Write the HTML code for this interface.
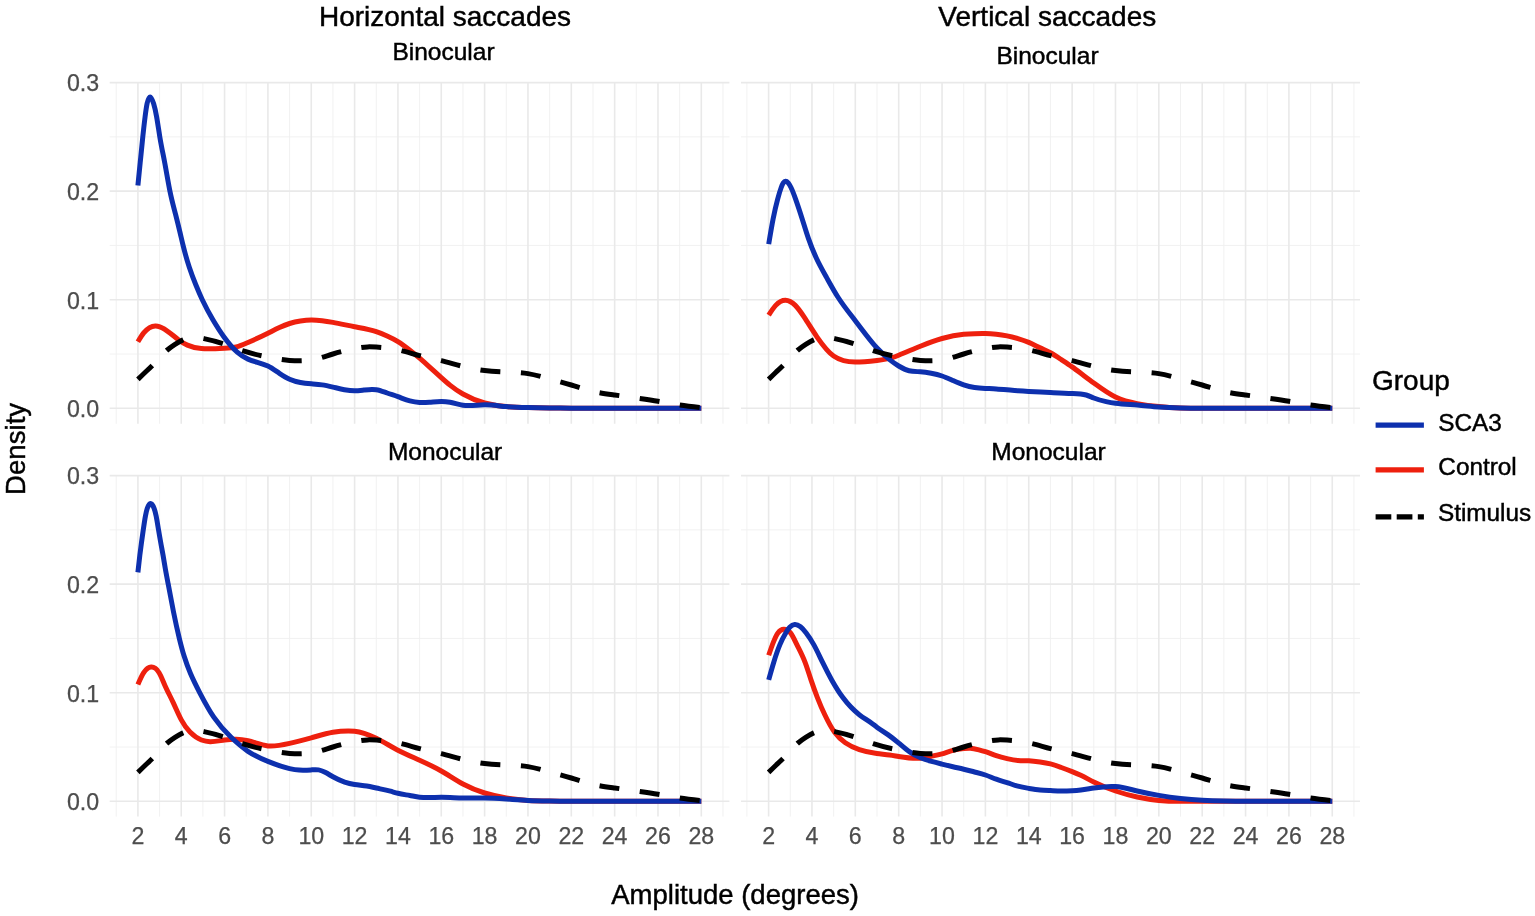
<!DOCTYPE html>
<html lang="en"><head><meta charset="utf-8"><title>Saccade amplitude density</title>
<style>html,body{margin:0;padding:0;background:#fff}svg{display:block}</style></head>
<body>
<svg width="1535" height="916" viewBox="0 0 1535 916">
<rect width="1535" height="916" fill="#ffffff"/>
<g><line x1="116.23" x2="116.23" y1="82.60" y2="423.80" stroke="#efefef" stroke-width="0.9"/><line x1="159.57" x2="159.57" y1="82.60" y2="423.80" stroke="#efefef" stroke-width="0.9"/><line x1="202.91" x2="202.91" y1="82.60" y2="423.80" stroke="#efefef" stroke-width="0.9"/><line x1="246.25" x2="246.25" y1="82.60" y2="423.80" stroke="#efefef" stroke-width="0.9"/><line x1="289.59" x2="289.59" y1="82.60" y2="423.80" stroke="#efefef" stroke-width="0.9"/><line x1="332.93" x2="332.93" y1="82.60" y2="423.80" stroke="#efefef" stroke-width="0.9"/><line x1="376.27" x2="376.27" y1="82.60" y2="423.80" stroke="#efefef" stroke-width="0.9"/><line x1="419.61" x2="419.61" y1="82.60" y2="423.80" stroke="#efefef" stroke-width="0.9"/><line x1="462.95" x2="462.95" y1="82.60" y2="423.80" stroke="#efefef" stroke-width="0.9"/><line x1="506.29" x2="506.29" y1="82.60" y2="423.80" stroke="#efefef" stroke-width="0.9"/><line x1="549.63" x2="549.63" y1="82.60" y2="423.80" stroke="#efefef" stroke-width="0.9"/><line x1="592.97" x2="592.97" y1="82.60" y2="423.80" stroke="#efefef" stroke-width="0.9"/><line x1="636.31" x2="636.31" y1="82.60" y2="423.80" stroke="#efefef" stroke-width="0.9"/><line x1="679.65" x2="679.65" y1="82.60" y2="423.80" stroke="#efefef" stroke-width="0.9"/><line x1="722.99" x2="722.99" y1="82.60" y2="423.80" stroke="#efefef" stroke-width="0.9"/><line x1="109.70" x2="729.40" y1="354.02" y2="354.02" stroke="#efefef" stroke-width="0.9"/><line x1="109.70" x2="729.40" y1="245.45" y2="245.45" stroke="#efefef" stroke-width="0.9"/><line x1="109.70" x2="729.40" y1="136.88" y2="136.88" stroke="#efefef" stroke-width="0.9"/><line x1="137.90" x2="137.90" y1="82.60" y2="423.80" stroke="#e9e9e9" stroke-width="1.6"/><line x1="181.24" x2="181.24" y1="82.60" y2="423.80" stroke="#e9e9e9" stroke-width="1.6"/><line x1="224.58" x2="224.58" y1="82.60" y2="423.80" stroke="#e9e9e9" stroke-width="1.6"/><line x1="267.92" x2="267.92" y1="82.60" y2="423.80" stroke="#e9e9e9" stroke-width="1.6"/><line x1="311.26" x2="311.26" y1="82.60" y2="423.80" stroke="#e9e9e9" stroke-width="1.6"/><line x1="354.60" x2="354.60" y1="82.60" y2="423.80" stroke="#e9e9e9" stroke-width="1.6"/><line x1="397.94" x2="397.94" y1="82.60" y2="423.80" stroke="#e9e9e9" stroke-width="1.6"/><line x1="441.28" x2="441.28" y1="82.60" y2="423.80" stroke="#e9e9e9" stroke-width="1.6"/><line x1="484.62" x2="484.62" y1="82.60" y2="423.80" stroke="#e9e9e9" stroke-width="1.6"/><line x1="527.96" x2="527.96" y1="82.60" y2="423.80" stroke="#e9e9e9" stroke-width="1.6"/><line x1="571.30" x2="571.30" y1="82.60" y2="423.80" stroke="#e9e9e9" stroke-width="1.6"/><line x1="614.64" x2="614.64" y1="82.60" y2="423.80" stroke="#e9e9e9" stroke-width="1.6"/><line x1="657.98" x2="657.98" y1="82.60" y2="423.80" stroke="#e9e9e9" stroke-width="1.6"/><line x1="701.32" x2="701.32" y1="82.60" y2="423.80" stroke="#e9e9e9" stroke-width="1.6"/><line x1="109.70" x2="729.40" y1="408.30" y2="408.30" stroke="#e9e9e9" stroke-width="1.6"/><line x1="109.70" x2="729.40" y1="299.73" y2="299.73" stroke="#e9e9e9" stroke-width="1.6"/><line x1="109.70" x2="729.40" y1="191.17" y2="191.17" stroke="#e9e9e9" stroke-width="1.6"/><line x1="109.70" x2="729.40" y1="82.60" y2="82.60" stroke="#e9e9e9" stroke-width="1.6"/></g>
<path d="M137.90 341.80C139.83 338.54 141.77 335.27 143.70 332.90C147.67 328.03 151.63 325.76 155.60 325.90C157.00 325.95 158.40 326.30 159.80 326.80C163.17 327.99 166.53 330.33 169.90 332.90C172.83 335.14 175.77 337.76 178.70 339.90C181.60 342.01 184.50 343.83 187.40 345.10C192.07 347.15 196.73 348.24 201.40 348.60C206.03 348.96 210.67 348.85 215.30 348.70C218.40 348.60 221.50 348.46 224.60 348.30C228.50 348.10 232.40 347.83 236.30 346.90C240.20 345.97 244.10 344.21 248.00 342.50C254.64 339.59 261.28 336.51 267.92 333.20C271.75 331.29 275.58 329.25 279.41 327.50C282.80 325.95 286.20 324.55 289.59 323.50C293.20 322.38 296.81 321.57 300.43 321.00C304.04 320.43 307.65 320.03 311.26 320.00C314.87 319.97 318.48 320.27 322.10 320.70C325.71 321.13 329.32 321.74 332.93 322.40C340.15 323.72 347.38 325.31 354.60 326.70C361.82 328.09 369.05 329.21 376.27 331.60C379.88 332.79 383.49 334.36 387.11 336.00C390.72 337.64 394.33 339.39 397.94 341.60C401.91 344.03 405.89 347.07 409.86 350.20C413.11 352.76 416.36 355.43 419.61 358.20C422.86 360.97 426.11 363.87 429.36 366.80C433.33 370.38 437.31 374.03 441.28 377.60C444.17 380.20 447.06 382.79 449.95 385.10C454.28 388.56 458.62 391.55 462.95 394.00C470.17 398.09 477.40 401.08 484.62 403.00C491.84 404.92 499.07 406.00 506.29 406.60C513.51 407.20 520.74 407.43 527.96 407.60C535.18 407.77 542.41 407.90 549.63 408.00C556.85 408.10 564.08 408.17 571.30 408.20C585.75 408.26 600.19 408.22 614.64 408.20C629.09 408.18 643.53 408.20 657.98 408.20C672.43 408.20 686.87 408.20 701.32 408.20" fill="none" stroke="#ee200e" stroke-width="5.0" stroke-linejoin="round"/>
<path d="M137.90 185.50C138.67 177.90 139.43 170.29 140.20 162.60C141.07 153.90 141.93 145.01 142.80 136.80C143.57 129.54 144.33 122.66 145.10 116.70C145.77 111.52 146.43 106.72 147.10 103.60C148.10 98.92 149.10 96.84 150.10 96.90C151.27 96.97 152.43 99.83 153.60 103.60C154.60 106.83 155.60 111.16 156.60 116.70C157.67 122.61 158.73 130.36 159.80 136.80C161.43 146.66 163.07 153.99 164.70 162.60C166.47 171.92 168.23 182.79 170.00 191.40C171.90 200.66 173.80 207.48 175.70 214.90C177.13 220.50 178.57 226.34 180.00 232.40C181.07 236.91 182.13 241.61 183.20 245.90C185.23 254.07 187.27 261.13 189.30 267.30C191.47 273.87 193.63 279.47 195.80 284.80C198.00 290.22 200.20 295.34 202.40 300.00C205.90 307.42 209.40 313.77 212.90 319.70C216.67 326.08 220.43 332.02 224.20 337.20C228.53 343.16 232.87 348.34 237.20 352.10C240.80 355.22 244.40 357.49 248.00 359.10C254.64 362.08 261.28 362.84 267.92 366.10C271.75 367.98 275.58 370.79 279.41 373.30C282.80 375.53 286.20 377.69 289.59 379.20C293.20 380.81 296.81 381.84 300.43 382.50C304.04 383.16 307.65 383.49 311.26 383.80C314.87 384.11 318.48 384.37 322.10 384.90C325.71 385.43 329.32 386.26 332.93 387.10C336.76 388.00 340.59 389.00 344.42 389.70C347.81 390.32 351.21 390.80 354.60 390.80C357.71 390.80 360.81 390.42 363.92 390.10C366.59 389.83 369.26 389.54 371.94 389.50C373.38 389.48 374.83 389.52 376.27 389.70C379.88 390.16 383.49 391.72 387.11 393.00C390.72 394.28 394.33 395.40 397.94 396.70C401.91 398.13 405.89 399.86 409.86 400.90C413.11 401.75 416.36 402.26 419.61 402.40C422.86 402.54 426.11 402.41 429.36 402.20C433.33 401.95 437.31 401.52 441.28 401.50C444.17 401.49 447.06 401.70 449.95 402.20C454.28 402.95 458.62 404.64 462.95 405.20C470.17 406.13 477.40 404.88 484.62 404.80C491.84 404.72 499.07 405.95 506.29 406.60C513.51 407.25 520.74 407.44 527.96 407.60C535.18 407.76 542.41 407.90 549.63 408.00C556.85 408.10 564.08 408.17 571.30 408.20C585.75 408.26 600.19 408.22 614.64 408.20C629.09 408.18 643.53 408.20 657.98 408.20C672.43 408.20 686.87 408.20 701.32 408.20" fill="none" stroke="#0d30ae" stroke-width="5.0" stroke-linejoin="round"/>
<path d="M137.90 379.40C140.27 377.07 142.63 374.75 145.00 372.50C147.37 370.25 149.73 368.08 152.10 365.70C157.17 360.60 162.23 354.42 167.30 350.00C169.87 347.76 172.43 345.94 175.00 344.30C177.67 342.60 180.33 341.03 183.00 339.90C186.67 338.35 190.33 337.36 194.00 337.30C197.33 337.25 200.67 337.91 204.00 338.60C210.40 339.92 216.80 341.58 223.20 343.70C229.60 345.82 236.00 348.60 242.40 350.70C250.91 353.49 259.41 355.35 267.92 357.00C275.14 358.40 282.37 359.80 289.59 360.40C296.81 361.00 304.04 361.08 311.26 360.00C318.48 358.92 325.71 356.15 332.93 354.00C340.15 351.85 347.38 349.97 354.60 348.60C358.93 347.78 363.27 347.04 367.60 346.90C370.49 346.81 373.38 346.94 376.27 347.10C383.49 347.51 390.72 348.30 397.94 349.80C405.16 351.30 412.39 353.74 419.61 355.60C426.83 357.46 434.06 358.82 441.28 360.60C448.50 362.38 455.73 364.60 462.95 366.40C470.17 368.20 477.40 369.74 484.62 370.60C491.84 371.46 499.07 371.73 506.29 372.00C513.51 372.27 520.74 372.47 527.96 373.60C535.18 374.73 542.41 377.01 549.63 379.00C556.85 380.99 564.08 382.85 571.30 385.00C578.52 387.15 585.75 389.71 592.97 391.40C600.19 393.09 607.42 394.01 614.64 395.00C621.86 395.99 629.09 396.99 636.31 398.00C643.53 399.01 650.76 399.99 657.98 401.20C665.20 402.41 672.43 403.90 679.65 405.00C686.87 406.10 694.10 406.87 701.32 407.60" fill="none" stroke="#000000" stroke-width="5.0" stroke-linejoin="round" stroke-dasharray="20.00 20.60"/>
<g><line x1="746.92" x2="746.92" y1="82.60" y2="423.80" stroke="#efefef" stroke-width="0.9"/><line x1="790.28" x2="790.28" y1="82.60" y2="423.80" stroke="#efefef" stroke-width="0.9"/><line x1="833.64" x2="833.64" y1="82.60" y2="423.80" stroke="#efefef" stroke-width="0.9"/><line x1="877.00" x2="877.00" y1="82.60" y2="423.80" stroke="#efefef" stroke-width="0.9"/><line x1="920.36" x2="920.36" y1="82.60" y2="423.80" stroke="#efefef" stroke-width="0.9"/><line x1="963.72" x2="963.72" y1="82.60" y2="423.80" stroke="#efefef" stroke-width="0.9"/><line x1="1007.08" x2="1007.08" y1="82.60" y2="423.80" stroke="#efefef" stroke-width="0.9"/><line x1="1050.44" x2="1050.44" y1="82.60" y2="423.80" stroke="#efefef" stroke-width="0.9"/><line x1="1093.80" x2="1093.80" y1="82.60" y2="423.80" stroke="#efefef" stroke-width="0.9"/><line x1="1137.16" x2="1137.16" y1="82.60" y2="423.80" stroke="#efefef" stroke-width="0.9"/><line x1="1180.52" x2="1180.52" y1="82.60" y2="423.80" stroke="#efefef" stroke-width="0.9"/><line x1="1223.88" x2="1223.88" y1="82.60" y2="423.80" stroke="#efefef" stroke-width="0.9"/><line x1="1267.24" x2="1267.24" y1="82.60" y2="423.80" stroke="#efefef" stroke-width="0.9"/><line x1="1310.60" x2="1310.60" y1="82.60" y2="423.80" stroke="#efefef" stroke-width="0.9"/><line x1="1353.96" x2="1353.96" y1="82.60" y2="423.80" stroke="#efefef" stroke-width="0.9"/><line x1="741.00" x2="1360.00" y1="354.02" y2="354.02" stroke="#efefef" stroke-width="0.9"/><line x1="741.00" x2="1360.00" y1="245.45" y2="245.45" stroke="#efefef" stroke-width="0.9"/><line x1="741.00" x2="1360.00" y1="136.88" y2="136.88" stroke="#efefef" stroke-width="0.9"/><line x1="768.60" x2="768.60" y1="82.60" y2="423.80" stroke="#e9e9e9" stroke-width="1.6"/><line x1="811.96" x2="811.96" y1="82.60" y2="423.80" stroke="#e9e9e9" stroke-width="1.6"/><line x1="855.32" x2="855.32" y1="82.60" y2="423.80" stroke="#e9e9e9" stroke-width="1.6"/><line x1="898.68" x2="898.68" y1="82.60" y2="423.80" stroke="#e9e9e9" stroke-width="1.6"/><line x1="942.04" x2="942.04" y1="82.60" y2="423.80" stroke="#e9e9e9" stroke-width="1.6"/><line x1="985.40" x2="985.40" y1="82.60" y2="423.80" stroke="#e9e9e9" stroke-width="1.6"/><line x1="1028.76" x2="1028.76" y1="82.60" y2="423.80" stroke="#e9e9e9" stroke-width="1.6"/><line x1="1072.12" x2="1072.12" y1="82.60" y2="423.80" stroke="#e9e9e9" stroke-width="1.6"/><line x1="1115.48" x2="1115.48" y1="82.60" y2="423.80" stroke="#e9e9e9" stroke-width="1.6"/><line x1="1158.84" x2="1158.84" y1="82.60" y2="423.80" stroke="#e9e9e9" stroke-width="1.6"/><line x1="1202.20" x2="1202.20" y1="82.60" y2="423.80" stroke="#e9e9e9" stroke-width="1.6"/><line x1="1245.56" x2="1245.56" y1="82.60" y2="423.80" stroke="#e9e9e9" stroke-width="1.6"/><line x1="1288.92" x2="1288.92" y1="82.60" y2="423.80" stroke="#e9e9e9" stroke-width="1.6"/><line x1="1332.28" x2="1332.28" y1="82.60" y2="423.80" stroke="#e9e9e9" stroke-width="1.6"/><line x1="741.00" x2="1360.00" y1="408.30" y2="408.30" stroke="#e9e9e9" stroke-width="1.6"/><line x1="741.00" x2="1360.00" y1="299.73" y2="299.73" stroke="#e9e9e9" stroke-width="1.6"/><line x1="741.00" x2="1360.00" y1="191.17" y2="191.17" stroke="#e9e9e9" stroke-width="1.6"/><line x1="741.00" x2="1360.00" y1="82.60" y2="82.60" stroke="#e9e9e9" stroke-width="1.6"/></g>
<path d="M768.70 315.20C771.03 311.51 773.37 307.86 775.70 305.40C778.97 301.95 782.23 300.23 785.50 300.30C788.77 300.37 792.03 302.23 795.30 305.40C798.27 308.28 801.23 312.72 804.20 317.20C808.43 323.59 812.67 330.68 816.90 336.80C822.48 344.86 828.06 352.11 833.64 356.00C840.87 361.04 848.09 362.02 855.32 362.00C862.55 361.98 869.77 361.23 877.00 360.40C882.06 359.82 887.12 359.14 892.18 357.60C894.34 356.94 896.51 356.07 898.68 355.20C905.91 352.31 913.13 349.11 920.36 346.20C927.59 343.29 934.81 340.53 942.04 338.50C949.27 336.47 956.49 334.97 963.72 334.30C967.33 333.97 970.95 333.80 974.56 333.70C978.17 333.60 981.79 333.53 985.40 333.60C989.01 333.67 992.63 333.93 996.24 334.30C999.85 334.67 1003.47 335.19 1007.08 335.90C1010.69 336.61 1014.31 337.54 1017.92 338.60C1021.53 339.66 1025.15 340.86 1028.76 342.40C1032.52 344.00 1036.28 346.01 1040.03 347.80C1043.50 349.45 1046.97 350.91 1050.44 352.80C1054.05 354.77 1057.67 357.21 1061.28 359.60C1064.89 361.99 1068.51 364.34 1072.12 366.90C1075.01 368.95 1077.90 371.13 1080.79 373.30C1085.13 376.55 1089.46 379.83 1093.80 383.00C1101.03 388.28 1108.25 393.59 1115.48 397.00C1122.71 400.41 1129.93 402.24 1137.16 403.60C1144.39 404.96 1151.61 405.91 1158.84 406.60C1166.07 407.29 1173.29 407.77 1180.52 408.00C1187.75 408.23 1194.97 408.28 1202.20 408.30C1216.65 408.33 1231.11 408.31 1245.56 408.30C1260.01 408.29 1274.47 408.30 1288.92 408.30C1303.37 408.30 1317.83 408.30 1332.28 408.30" fill="none" stroke="#ee200e" stroke-width="5.0" stroke-linejoin="round"/>
<path d="M768.70 244.10C770.17 235.18 771.63 226.38 773.10 218.90C774.60 211.25 776.10 204.91 777.60 199.30C778.80 194.81 780.00 190.73 781.20 187.50C781.90 185.61 782.60 183.93 783.30 182.90C784.03 181.82 784.77 181.25 785.50 181.20C786.40 181.13 787.30 181.76 788.20 182.80C789.13 183.87 790.07 185.57 791.00 187.50C792.57 190.74 794.13 194.91 795.70 199.30C797.87 205.37 800.03 212.05 802.20 218.90C804.30 225.54 806.40 232.54 808.50 238.60C811.13 246.20 813.77 252.58 816.40 258.20C819.87 265.60 823.33 271.70 826.80 277.90C830.60 284.69 834.40 291.57 838.20 297.50C843.90 306.40 849.60 313.32 855.30 320.70C862.53 330.07 869.77 340.21 877.00 348.00C881.19 352.51 885.38 356.29 889.57 359.60C892.61 361.99 895.64 364.17 898.68 366.00C902.15 368.09 905.62 369.89 909.09 370.70C912.84 371.58 916.60 371.52 920.36 371.80C923.97 372.07 927.59 372.62 931.20 373.30C934.81 373.98 938.43 374.79 942.04 376.00C945.65 377.21 949.27 378.90 952.88 380.50C956.49 382.10 960.11 383.71 963.72 384.90C967.33 386.09 970.95 386.98 974.56 387.50C978.17 388.02 981.79 388.23 985.40 388.40C989.01 388.57 992.63 388.68 996.24 388.90C999.85 389.12 1003.47 389.46 1007.08 389.80C1010.69 390.14 1014.31 390.51 1017.92 390.80C1021.53 391.09 1025.15 391.31 1028.76 391.50C1035.99 391.89 1043.21 392.17 1050.44 392.50C1057.67 392.83 1064.89 393.18 1072.12 393.40C1076.82 393.54 1081.51 393.62 1086.21 395.00C1088.74 395.74 1091.27 397.02 1093.80 398.00C1097.92 399.60 1102.04 400.73 1106.16 401.60C1109.27 402.26 1112.37 402.80 1115.48 403.20C1122.71 404.14 1129.93 404.42 1137.16 405.00C1144.39 405.58 1151.61 406.45 1158.84 407.00C1166.07 407.55 1173.29 407.83 1180.52 408.00C1187.75 408.17 1194.97 408.26 1202.20 408.30C1216.65 408.38 1231.11 408.32 1245.56 408.30C1260.01 408.28 1274.47 408.29 1288.92 408.30C1303.37 408.31 1317.83 408.30 1332.28 408.30" fill="none" stroke="#0d30ae" stroke-width="5.0" stroke-linejoin="round"/>
<path d="M768.60 379.40C770.97 377.07 773.34 374.75 775.70 372.50C778.07 370.25 780.44 368.08 782.81 365.70C787.88 360.60 792.94 354.42 798.01 350.00C800.58 347.76 803.15 345.94 805.72 344.30C808.39 342.60 811.05 341.03 813.72 339.90C817.39 338.35 821.06 337.36 824.73 337.30C828.06 337.25 831.40 337.91 834.73 338.60C841.13 339.92 847.54 341.58 853.94 343.70C860.34 345.82 866.75 348.60 873.15 350.70C881.66 353.49 890.17 355.35 898.68 357.00C905.91 358.40 913.13 359.80 920.36 360.40C927.59 361.00 934.81 361.08 942.04 360.00C949.27 358.92 956.49 356.15 963.72 354.00C970.95 351.85 978.17 349.97 985.40 348.60C989.74 347.78 994.07 347.04 998.41 346.90C1001.30 346.81 1004.19 346.94 1007.08 347.10C1014.31 347.51 1021.53 348.30 1028.76 349.80C1035.99 351.30 1043.21 353.74 1050.44 355.60C1057.67 357.46 1064.89 358.82 1072.12 360.60C1079.35 362.38 1086.57 364.60 1093.80 366.40C1101.03 368.20 1108.25 369.74 1115.48 370.60C1122.71 371.46 1129.93 371.73 1137.16 372.00C1144.39 372.27 1151.61 372.47 1158.84 373.60C1166.07 374.73 1173.29 377.01 1180.52 379.00C1187.75 380.99 1194.97 382.85 1202.20 385.00C1209.43 387.15 1216.65 389.71 1223.88 391.40C1231.11 393.09 1238.33 394.01 1245.56 395.00C1252.79 395.99 1260.01 396.99 1267.24 398.00C1274.47 399.01 1281.69 399.99 1288.92 401.20C1296.15 402.41 1303.37 403.90 1310.60 405.00C1317.83 406.10 1325.05 406.87 1332.28 407.60" fill="none" stroke="#000000" stroke-width="5.0" stroke-linejoin="round" stroke-dasharray="20.00 20.60"/>
<g><line x1="116.23" x2="116.23" y1="475.60" y2="816.60" stroke="#efefef" stroke-width="0.9"/><line x1="159.57" x2="159.57" y1="475.60" y2="816.60" stroke="#efefef" stroke-width="0.9"/><line x1="202.91" x2="202.91" y1="475.60" y2="816.60" stroke="#efefef" stroke-width="0.9"/><line x1="246.25" x2="246.25" y1="475.60" y2="816.60" stroke="#efefef" stroke-width="0.9"/><line x1="289.59" x2="289.59" y1="475.60" y2="816.60" stroke="#efefef" stroke-width="0.9"/><line x1="332.93" x2="332.93" y1="475.60" y2="816.60" stroke="#efefef" stroke-width="0.9"/><line x1="376.27" x2="376.27" y1="475.60" y2="816.60" stroke="#efefef" stroke-width="0.9"/><line x1="419.61" x2="419.61" y1="475.60" y2="816.60" stroke="#efefef" stroke-width="0.9"/><line x1="462.95" x2="462.95" y1="475.60" y2="816.60" stroke="#efefef" stroke-width="0.9"/><line x1="506.29" x2="506.29" y1="475.60" y2="816.60" stroke="#efefef" stroke-width="0.9"/><line x1="549.63" x2="549.63" y1="475.60" y2="816.60" stroke="#efefef" stroke-width="0.9"/><line x1="592.97" x2="592.97" y1="475.60" y2="816.60" stroke="#efefef" stroke-width="0.9"/><line x1="636.31" x2="636.31" y1="475.60" y2="816.60" stroke="#efefef" stroke-width="0.9"/><line x1="679.65" x2="679.65" y1="475.60" y2="816.60" stroke="#efefef" stroke-width="0.9"/><line x1="722.99" x2="722.99" y1="475.60" y2="816.60" stroke="#efefef" stroke-width="0.9"/><line x1="109.70" x2="729.40" y1="747.02" y2="747.02" stroke="#efefef" stroke-width="0.9"/><line x1="109.70" x2="729.40" y1="638.45" y2="638.45" stroke="#efefef" stroke-width="0.9"/><line x1="109.70" x2="729.40" y1="529.88" y2="529.88" stroke="#efefef" stroke-width="0.9"/><line x1="137.90" x2="137.90" y1="475.60" y2="816.60" stroke="#e9e9e9" stroke-width="1.6"/><line x1="181.24" x2="181.24" y1="475.60" y2="816.60" stroke="#e9e9e9" stroke-width="1.6"/><line x1="224.58" x2="224.58" y1="475.60" y2="816.60" stroke="#e9e9e9" stroke-width="1.6"/><line x1="267.92" x2="267.92" y1="475.60" y2="816.60" stroke="#e9e9e9" stroke-width="1.6"/><line x1="311.26" x2="311.26" y1="475.60" y2="816.60" stroke="#e9e9e9" stroke-width="1.6"/><line x1="354.60" x2="354.60" y1="475.60" y2="816.60" stroke="#e9e9e9" stroke-width="1.6"/><line x1="397.94" x2="397.94" y1="475.60" y2="816.60" stroke="#e9e9e9" stroke-width="1.6"/><line x1="441.28" x2="441.28" y1="475.60" y2="816.60" stroke="#e9e9e9" stroke-width="1.6"/><line x1="484.62" x2="484.62" y1="475.60" y2="816.60" stroke="#e9e9e9" stroke-width="1.6"/><line x1="527.96" x2="527.96" y1="475.60" y2="816.60" stroke="#e9e9e9" stroke-width="1.6"/><line x1="571.30" x2="571.30" y1="475.60" y2="816.60" stroke="#e9e9e9" stroke-width="1.6"/><line x1="614.64" x2="614.64" y1="475.60" y2="816.60" stroke="#e9e9e9" stroke-width="1.6"/><line x1="657.98" x2="657.98" y1="475.60" y2="816.60" stroke="#e9e9e9" stroke-width="1.6"/><line x1="701.32" x2="701.32" y1="475.60" y2="816.60" stroke="#e9e9e9" stroke-width="1.6"/><line x1="109.70" x2="729.40" y1="801.30" y2="801.30" stroke="#e9e9e9" stroke-width="1.6"/><line x1="109.70" x2="729.40" y1="692.73" y2="692.73" stroke="#e9e9e9" stroke-width="1.6"/><line x1="109.70" x2="729.40" y1="584.17" y2="584.17" stroke="#e9e9e9" stroke-width="1.6"/><line x1="109.70" x2="729.40" y1="475.60" y2="475.60" stroke="#e9e9e9" stroke-width="1.6"/></g>
<path d="M137.90 684.60C139.83 680.06 141.77 675.59 143.70 672.70C146.20 668.96 148.70 667.25 151.20 667.10C153.83 666.94 156.47 668.45 159.10 672.70C160.97 675.71 162.83 680.69 164.70 684.90C167.50 691.21 170.30 696.45 173.10 702.40C175.83 708.21 178.57 714.86 181.30 719.90C184.20 725.25 187.10 729.15 190.00 732.10C193.80 735.96 197.60 738.58 201.40 740.00C204.30 741.08 207.20 741.64 210.10 741.70C214.93 741.80 219.77 740.67 224.60 740.00C228.50 739.46 232.40 739.11 236.30 739.20C240.20 739.29 244.10 739.90 248.00 740.80C254.64 742.34 261.28 745.27 267.92 745.90C275.14 746.58 282.37 745.03 289.59 743.40C296.81 741.77 304.04 739.80 311.26 737.80C318.48 735.80 325.71 733.50 332.93 732.30C338.13 731.43 343.33 730.98 348.53 731.00C350.55 731.01 352.58 731.09 354.60 731.30C357.78 731.62 360.96 732.34 364.13 733.30C368.18 734.53 372.22 736.30 376.27 738.30C383.49 741.87 390.72 746.45 397.94 750.20C405.16 753.95 412.39 756.95 419.61 760.20C426.83 763.45 434.06 766.86 441.28 771.00C448.50 775.14 455.73 780.15 462.95 784.00C470.17 787.85 477.40 790.78 484.62 793.00C491.84 795.22 499.07 796.83 506.29 798.00C513.51 799.17 520.74 799.99 527.96 800.40C535.18 800.81 542.41 800.89 549.63 801.00C556.85 801.11 564.08 801.24 571.30 801.30C585.75 801.42 600.19 801.33 614.64 801.30C629.09 801.27 643.53 801.29 657.98 801.30C672.43 801.31 686.87 801.30 701.32 801.30" fill="none" stroke="#ee200e" stroke-width="5.0" stroke-linejoin="round"/>
<path d="M137.90 572.40C138.53 566.55 139.17 560.76 139.80 555.50C140.37 550.79 140.93 546.52 141.50 542.40C142.10 538.03 142.70 533.85 143.30 529.70C144.00 524.86 144.70 519.95 145.40 516.20C146.03 512.81 146.67 510.15 147.30 508.30C148.37 505.18 149.43 503.58 150.50 503.50C151.70 503.41 152.90 505.13 154.10 508.30C154.80 510.15 155.50 512.76 156.20 516.20C156.97 519.97 157.73 525.04 158.50 529.70C159.23 534.15 159.97 538.38 160.70 542.40C161.50 546.78 162.30 550.89 163.10 555.50C163.83 559.72 164.57 564.39 165.30 568.60C166.27 574.15 167.23 578.97 168.20 584.00C170.00 593.36 171.80 603.37 173.60 612.40C175.50 621.93 177.40 630.52 179.30 638.30C180.90 644.85 182.50 650.91 184.10 656.10C186.23 663.02 188.37 668.52 190.50 673.50C193.60 680.74 196.70 686.86 199.80 692.80C204.47 701.74 209.13 710.34 213.80 717.20C219.57 725.67 225.33 731.79 231.10 737.30C236.73 742.69 242.37 747.56 248.00 751.30C254.64 755.71 261.28 758.71 267.92 761.40C275.14 764.33 282.37 766.98 289.59 768.60C292.77 769.31 295.95 769.90 299.12 770.10C303.17 770.36 307.21 770.17 311.26 769.90C313.72 769.74 316.17 769.54 318.63 769.90C320.79 770.22 322.96 771.20 325.13 772.30C327.73 773.62 330.33 775.34 332.93 776.80C336.83 778.98 340.73 780.81 344.63 782.10C347.95 783.20 351.28 783.98 354.60 784.50C358.65 785.13 362.69 785.35 366.74 786.00C369.91 786.51 373.09 787.30 376.27 788.00C380.97 789.04 385.66 789.94 390.36 791.20C392.88 791.88 395.41 792.69 397.94 793.30C401.91 794.26 405.89 794.78 409.86 795.50C413.11 796.09 416.36 796.86 419.61 797.20C426.83 797.96 434.06 797.34 441.28 797.30C448.50 797.26 455.73 797.86 462.95 798.00C470.17 798.14 477.40 797.93 484.62 798.00C491.84 798.07 499.07 798.52 506.29 799.00C513.51 799.48 520.74 800.06 527.96 800.40C535.18 800.74 542.41 800.88 549.63 801.00C556.85 801.12 564.08 801.25 571.30 801.30C585.75 801.41 600.19 801.33 614.64 801.30C629.09 801.27 643.53 801.29 657.98 801.30C672.43 801.31 686.87 801.30 701.32 801.30" fill="none" stroke="#0d30ae" stroke-width="5.0" stroke-linejoin="round"/>
<path d="M137.90 772.40C140.27 770.07 142.63 767.75 145.00 765.50C147.37 763.25 149.73 761.08 152.10 758.70C157.17 753.60 162.23 747.42 167.30 743.00C169.87 740.76 172.43 738.94 175.00 737.30C177.67 735.60 180.33 734.03 183.00 732.90C186.67 731.35 190.33 730.36 194.00 730.30C197.33 730.25 200.67 730.91 204.00 731.60C210.40 732.92 216.80 734.58 223.20 736.70C229.60 738.82 236.00 741.60 242.40 743.70C250.91 746.49 259.41 748.35 267.92 750.00C275.14 751.40 282.37 752.80 289.59 753.40C296.81 754.00 304.04 754.08 311.26 753.00C318.48 751.92 325.71 749.15 332.93 747.00C340.15 744.85 347.38 742.97 354.60 741.60C358.93 740.78 363.27 740.04 367.60 739.90C370.49 739.81 373.38 739.94 376.27 740.10C383.49 740.51 390.72 741.30 397.94 742.80C405.16 744.30 412.39 746.74 419.61 748.60C426.83 750.46 434.06 751.82 441.28 753.60C448.50 755.38 455.73 757.60 462.95 759.40C470.17 761.20 477.40 762.74 484.62 763.60C491.84 764.46 499.07 764.73 506.29 765.00C513.51 765.27 520.74 765.47 527.96 766.60C535.18 767.73 542.41 770.01 549.63 772.00C556.85 773.99 564.08 775.85 571.30 778.00C578.52 780.15 585.75 782.71 592.97 784.40C600.19 786.09 607.42 787.01 614.64 788.00C621.86 788.99 629.09 789.99 636.31 791.00C643.53 792.01 650.76 792.99 657.98 794.20C665.20 795.41 672.43 796.90 679.65 798.00C686.87 799.10 694.10 799.87 701.32 800.60" fill="none" stroke="#000000" stroke-width="5.0" stroke-linejoin="round" stroke-dasharray="20.00 20.60"/>
<g><line x1="746.92" x2="746.92" y1="475.60" y2="816.60" stroke="#efefef" stroke-width="0.9"/><line x1="790.28" x2="790.28" y1="475.60" y2="816.60" stroke="#efefef" stroke-width="0.9"/><line x1="833.64" x2="833.64" y1="475.60" y2="816.60" stroke="#efefef" stroke-width="0.9"/><line x1="877.00" x2="877.00" y1="475.60" y2="816.60" stroke="#efefef" stroke-width="0.9"/><line x1="920.36" x2="920.36" y1="475.60" y2="816.60" stroke="#efefef" stroke-width="0.9"/><line x1="963.72" x2="963.72" y1="475.60" y2="816.60" stroke="#efefef" stroke-width="0.9"/><line x1="1007.08" x2="1007.08" y1="475.60" y2="816.60" stroke="#efefef" stroke-width="0.9"/><line x1="1050.44" x2="1050.44" y1="475.60" y2="816.60" stroke="#efefef" stroke-width="0.9"/><line x1="1093.80" x2="1093.80" y1="475.60" y2="816.60" stroke="#efefef" stroke-width="0.9"/><line x1="1137.16" x2="1137.16" y1="475.60" y2="816.60" stroke="#efefef" stroke-width="0.9"/><line x1="1180.52" x2="1180.52" y1="475.60" y2="816.60" stroke="#efefef" stroke-width="0.9"/><line x1="1223.88" x2="1223.88" y1="475.60" y2="816.60" stroke="#efefef" stroke-width="0.9"/><line x1="1267.24" x2="1267.24" y1="475.60" y2="816.60" stroke="#efefef" stroke-width="0.9"/><line x1="1310.60" x2="1310.60" y1="475.60" y2="816.60" stroke="#efefef" stroke-width="0.9"/><line x1="1353.96" x2="1353.96" y1="475.60" y2="816.60" stroke="#efefef" stroke-width="0.9"/><line x1="741.00" x2="1360.00" y1="747.02" y2="747.02" stroke="#efefef" stroke-width="0.9"/><line x1="741.00" x2="1360.00" y1="638.45" y2="638.45" stroke="#efefef" stroke-width="0.9"/><line x1="741.00" x2="1360.00" y1="529.88" y2="529.88" stroke="#efefef" stroke-width="0.9"/><line x1="768.60" x2="768.60" y1="475.60" y2="816.60" stroke="#e9e9e9" stroke-width="1.6"/><line x1="811.96" x2="811.96" y1="475.60" y2="816.60" stroke="#e9e9e9" stroke-width="1.6"/><line x1="855.32" x2="855.32" y1="475.60" y2="816.60" stroke="#e9e9e9" stroke-width="1.6"/><line x1="898.68" x2="898.68" y1="475.60" y2="816.60" stroke="#e9e9e9" stroke-width="1.6"/><line x1="942.04" x2="942.04" y1="475.60" y2="816.60" stroke="#e9e9e9" stroke-width="1.6"/><line x1="985.40" x2="985.40" y1="475.60" y2="816.60" stroke="#e9e9e9" stroke-width="1.6"/><line x1="1028.76" x2="1028.76" y1="475.60" y2="816.60" stroke="#e9e9e9" stroke-width="1.6"/><line x1="1072.12" x2="1072.12" y1="475.60" y2="816.60" stroke="#e9e9e9" stroke-width="1.6"/><line x1="1115.48" x2="1115.48" y1="475.60" y2="816.60" stroke="#e9e9e9" stroke-width="1.6"/><line x1="1158.84" x2="1158.84" y1="475.60" y2="816.60" stroke="#e9e9e9" stroke-width="1.6"/><line x1="1202.20" x2="1202.20" y1="475.60" y2="816.60" stroke="#e9e9e9" stroke-width="1.6"/><line x1="1245.56" x2="1245.56" y1="475.60" y2="816.60" stroke="#e9e9e9" stroke-width="1.6"/><line x1="1288.92" x2="1288.92" y1="475.60" y2="816.60" stroke="#e9e9e9" stroke-width="1.6"/><line x1="1332.28" x2="1332.28" y1="475.60" y2="816.60" stroke="#e9e9e9" stroke-width="1.6"/><line x1="741.00" x2="1360.00" y1="801.30" y2="801.30" stroke="#e9e9e9" stroke-width="1.6"/><line x1="741.00" x2="1360.00" y1="692.73" y2="692.73" stroke="#e9e9e9" stroke-width="1.6"/><line x1="741.00" x2="1360.00" y1="584.17" y2="584.17" stroke="#e9e9e9" stroke-width="1.6"/><line x1="741.00" x2="1360.00" y1="475.60" y2="475.60" stroke="#e9e9e9" stroke-width="1.6"/></g>
<path d="M768.70 655.30C770.37 650.35 772.03 645.49 773.70 641.40C775.17 637.80 776.63 634.61 778.10 632.70C779.97 630.26 781.83 629.30 783.70 629.20C785.90 629.08 788.10 630.05 790.30 632.70C792.53 635.39 794.77 640.42 797.00 644.90C799.70 650.32 802.40 655.30 805.10 662.40C807.07 667.57 809.03 674.04 811.00 679.90C813.10 686.16 815.20 691.95 817.30 697.30C819.80 703.67 822.30 709.53 824.80 714.80C828.07 721.69 831.33 727.84 834.60 732.30C838.17 737.17 841.73 740.36 845.30 742.80C849.97 746.00 854.63 748.13 859.30 749.70C865.13 751.66 870.97 752.85 876.80 753.60C881.06 754.15 885.32 754.42 889.57 755.00C892.61 755.41 895.64 756.00 898.68 756.50C905.91 757.70 913.13 758.79 920.36 758.20C923.97 757.90 927.59 757.04 931.20 756.30C934.81 755.56 938.43 754.84 942.04 753.80C945.65 752.76 949.27 751.31 952.88 750.40C956.49 749.49 960.11 749.00 963.72 748.60C965.89 748.36 968.06 748.12 970.22 748.20C973.11 748.30 976.01 749.05 978.90 749.80C981.06 750.36 983.23 750.98 985.40 751.70C989.01 752.91 992.63 754.49 996.24 755.70C999.85 756.91 1003.47 757.82 1007.08 758.60C1010.69 759.38 1014.31 760.11 1017.92 760.40C1021.53 760.69 1025.15 760.62 1028.76 760.80C1032.52 760.99 1036.28 761.48 1040.03 762.00C1043.50 762.48 1046.97 763.02 1050.44 763.90C1054.05 764.82 1057.67 766.17 1061.28 767.50C1064.89 768.83 1068.51 770.17 1072.12 771.60C1075.01 772.74 1077.90 773.93 1080.79 775.30C1085.13 777.35 1089.46 779.84 1093.80 782.00C1101.03 785.60 1108.25 788.56 1115.48 791.00C1122.71 793.44 1129.93 795.45 1137.16 797.00C1144.39 798.55 1151.61 799.76 1158.84 800.40C1166.07 801.04 1173.29 801.25 1180.52 801.30C1187.75 801.35 1194.97 801.32 1202.20 801.30C1216.65 801.26 1231.11 801.29 1245.56 801.30C1260.01 801.31 1274.47 801.30 1288.92 801.30C1303.37 801.30 1317.83 801.30 1332.28 801.30" fill="none" stroke="#ee200e" stroke-width="5.0" stroke-linejoin="round"/>
<path d="M768.70 679.80C770.37 673.79 772.03 667.83 773.70 662.40C775.73 655.77 777.77 649.79 779.80 644.90C781.83 640.01 783.87 636.08 785.90 632.70C787.17 630.59 788.43 628.62 789.70 627.30C791.37 625.56 793.03 624.62 794.70 624.50C796.63 624.36 798.57 625.22 800.50 626.70C802.33 628.11 804.17 630.32 806.00 632.70C808.63 636.12 811.27 640.14 813.90 644.90C816.80 650.14 819.70 656.49 822.60 662.40C825.63 668.58 828.67 674.51 831.70 679.90C835.37 686.41 839.03 692.34 842.70 697.30C848.33 704.91 853.97 710.61 859.60 714.90C863.73 718.04 867.87 720.33 872.00 723.40C873.73 724.69 875.47 726.12 877.20 727.40C880.77 730.04 884.33 732.11 887.90 734.60C891.53 737.13 895.17 740.07 898.80 743.10C902.43 746.13 906.07 749.37 909.70 751.90C913.27 754.39 916.83 756.33 920.40 757.80C924.13 759.34 927.87 760.38 931.60 761.40C935.03 762.34 938.47 763.22 941.90 764.10C945.56 765.04 949.22 765.97 952.88 766.80C956.49 767.62 960.11 768.34 963.72 769.20C967.33 770.06 970.95 771.07 974.56 772.00C978.17 772.93 981.79 773.77 985.40 775.00C989.01 776.23 992.63 777.91 996.24 779.20C999.85 780.49 1003.47 781.43 1007.08 782.60C1010.69 783.77 1014.31 785.21 1017.92 786.20C1021.53 787.19 1025.15 787.80 1028.76 788.40C1032.52 789.02 1036.28 789.65 1040.03 790.00C1043.50 790.33 1046.97 790.45 1050.44 790.60C1054.05 790.76 1057.67 790.97 1061.28 791.00C1064.89 791.03 1068.51 790.89 1072.12 790.70C1075.01 790.55 1077.90 790.33 1080.79 790.00C1085.13 789.50 1089.46 788.65 1093.80 788.00C1101.03 786.92 1108.25 786.09 1115.48 786.60C1122.71 787.11 1129.93 789.30 1137.16 791.00C1144.39 792.70 1151.61 794.19 1158.84 795.40C1166.07 796.61 1173.29 797.61 1180.52 798.40C1187.75 799.19 1194.97 799.79 1202.20 800.20C1209.43 800.61 1216.65 800.84 1223.88 801.00C1231.11 801.16 1238.33 801.26 1245.56 801.30C1260.01 801.38 1274.47 801.32 1288.92 801.30C1303.37 801.28 1317.83 801.29 1332.28 801.30" fill="none" stroke="#0d30ae" stroke-width="5.0" stroke-linejoin="round"/>
<path d="M768.60 772.40C770.97 770.07 773.34 767.75 775.70 765.50C778.07 763.25 780.44 761.08 782.81 758.70C787.88 753.60 792.94 747.42 798.01 743.00C800.58 740.76 803.15 738.94 805.72 737.30C808.39 735.60 811.05 734.03 813.72 732.90C817.39 731.35 821.06 730.36 824.73 730.30C828.06 730.25 831.40 730.91 834.73 731.60C841.13 732.92 847.54 734.58 853.94 736.70C860.34 738.82 866.75 741.60 873.15 743.70C881.66 746.49 890.17 748.35 898.68 750.00C905.91 751.40 913.13 752.80 920.36 753.40C927.59 754.00 934.81 754.08 942.04 753.00C949.27 751.92 956.49 749.15 963.72 747.00C970.95 744.85 978.17 742.97 985.40 741.60C989.74 740.78 994.07 740.04 998.41 739.90C1001.30 739.81 1004.19 739.94 1007.08 740.10C1014.31 740.51 1021.53 741.30 1028.76 742.80C1035.99 744.30 1043.21 746.74 1050.44 748.60C1057.67 750.46 1064.89 751.82 1072.12 753.60C1079.35 755.38 1086.57 757.60 1093.80 759.40C1101.03 761.20 1108.25 762.74 1115.48 763.60C1122.71 764.46 1129.93 764.73 1137.16 765.00C1144.39 765.27 1151.61 765.47 1158.84 766.60C1166.07 767.73 1173.29 770.01 1180.52 772.00C1187.75 773.99 1194.97 775.85 1202.20 778.00C1209.43 780.15 1216.65 782.71 1223.88 784.40C1231.11 786.09 1238.33 787.01 1245.56 788.00C1252.79 788.99 1260.01 789.99 1267.24 791.00C1274.47 792.01 1281.69 792.99 1288.92 794.20C1296.15 795.41 1303.37 796.90 1310.60 798.00C1317.83 799.10 1325.05 799.87 1332.28 800.60" fill="none" stroke="#000000" stroke-width="5.0" stroke-linejoin="round" stroke-dasharray="20.00 20.60"/>
<text x="445.0" y="26.0" font-size="28.00" text-anchor="middle" fill="#000" stroke="#000" stroke-width="0.45" font-family="Liberation Sans, Arial, Helvetica, sans-serif" >Horizontal saccades</text>
<text x="1047.3" y="26.4" font-size="28.00" text-anchor="middle" fill="#000" stroke="#000" stroke-width="0.45" font-family="Liberation Sans, Arial, Helvetica, sans-serif" >Vertical saccades</text>
<text x="443.5" y="60.0" font-size="24.50" text-anchor="middle" fill="#000" stroke="#000" stroke-width="0.45" font-family="Liberation Sans, Arial, Helvetica, sans-serif" >Binocular</text>
<text x="1047.5" y="64.4" font-size="24.50" text-anchor="middle" fill="#000" stroke="#000" stroke-width="0.45" font-family="Liberation Sans, Arial, Helvetica, sans-serif" >Binocular</text>
<text x="445.1" y="459.9" font-size="24.50" text-anchor="middle" fill="#000" stroke="#000" stroke-width="0.45" font-family="Liberation Sans, Arial, Helvetica, sans-serif" >Monocular</text>
<text x="1048.5" y="459.9" font-size="24.50" text-anchor="middle" fill="#000" stroke="#000" stroke-width="0.45" font-family="Liberation Sans, Arial, Helvetica, sans-serif" >Monocular</text>
<text x="99.2" y="417.1" font-size="23.20" text-anchor="end" fill="#4d4d4d" stroke="#4d4d4d" stroke-width="0.25" font-family="Liberation Sans, Arial, Helvetica, sans-serif" >0.0</text>
<text x="99.2" y="308.5" font-size="23.20" text-anchor="end" fill="#4d4d4d" stroke="#4d4d4d" stroke-width="0.25" font-family="Liberation Sans, Arial, Helvetica, sans-serif" >0.1</text>
<text x="99.2" y="200.0" font-size="23.20" text-anchor="end" fill="#4d4d4d" stroke="#4d4d4d" stroke-width="0.25" font-family="Liberation Sans, Arial, Helvetica, sans-serif" >0.2</text>
<text x="99.2" y="91.4" font-size="23.20" text-anchor="end" fill="#4d4d4d" stroke="#4d4d4d" stroke-width="0.25" font-family="Liberation Sans, Arial, Helvetica, sans-serif" >0.3</text>
<text x="99.2" y="810.1" font-size="23.20" text-anchor="end" fill="#4d4d4d" stroke="#4d4d4d" stroke-width="0.25" font-family="Liberation Sans, Arial, Helvetica, sans-serif" >0.0</text>
<text x="99.2" y="701.5" font-size="23.20" text-anchor="end" fill="#4d4d4d" stroke="#4d4d4d" stroke-width="0.25" font-family="Liberation Sans, Arial, Helvetica, sans-serif" >0.1</text>
<text x="99.2" y="593.0" font-size="23.20" text-anchor="end" fill="#4d4d4d" stroke="#4d4d4d" stroke-width="0.25" font-family="Liberation Sans, Arial, Helvetica, sans-serif" >0.2</text>
<text x="99.2" y="484.4" font-size="23.20" text-anchor="end" fill="#4d4d4d" stroke="#4d4d4d" stroke-width="0.25" font-family="Liberation Sans, Arial, Helvetica, sans-serif" >0.3</text>
<text x="137.9" y="843.6" font-size="23.20" text-anchor="middle" fill="#4d4d4d" stroke="#4d4d4d" stroke-width="0.25" font-family="Liberation Sans, Arial, Helvetica, sans-serif" >2</text>
<text x="181.2" y="843.6" font-size="23.20" text-anchor="middle" fill="#4d4d4d" stroke="#4d4d4d" stroke-width="0.25" font-family="Liberation Sans, Arial, Helvetica, sans-serif" >4</text>
<text x="224.6" y="843.6" font-size="23.20" text-anchor="middle" fill="#4d4d4d" stroke="#4d4d4d" stroke-width="0.25" font-family="Liberation Sans, Arial, Helvetica, sans-serif" >6</text>
<text x="267.9" y="843.6" font-size="23.20" text-anchor="middle" fill="#4d4d4d" stroke="#4d4d4d" stroke-width="0.25" font-family="Liberation Sans, Arial, Helvetica, sans-serif" >8</text>
<text x="311.3" y="843.6" font-size="23.20" text-anchor="middle" fill="#4d4d4d" stroke="#4d4d4d" stroke-width="0.25" font-family="Liberation Sans, Arial, Helvetica, sans-serif" >10</text>
<text x="354.6" y="843.6" font-size="23.20" text-anchor="middle" fill="#4d4d4d" stroke="#4d4d4d" stroke-width="0.25" font-family="Liberation Sans, Arial, Helvetica, sans-serif" >12</text>
<text x="397.9" y="843.6" font-size="23.20" text-anchor="middle" fill="#4d4d4d" stroke="#4d4d4d" stroke-width="0.25" font-family="Liberation Sans, Arial, Helvetica, sans-serif" >14</text>
<text x="441.3" y="843.6" font-size="23.20" text-anchor="middle" fill="#4d4d4d" stroke="#4d4d4d" stroke-width="0.25" font-family="Liberation Sans, Arial, Helvetica, sans-serif" >16</text>
<text x="484.6" y="843.6" font-size="23.20" text-anchor="middle" fill="#4d4d4d" stroke="#4d4d4d" stroke-width="0.25" font-family="Liberation Sans, Arial, Helvetica, sans-serif" >18</text>
<text x="528.0" y="843.6" font-size="23.20" text-anchor="middle" fill="#4d4d4d" stroke="#4d4d4d" stroke-width="0.25" font-family="Liberation Sans, Arial, Helvetica, sans-serif" >20</text>
<text x="571.3" y="843.6" font-size="23.20" text-anchor="middle" fill="#4d4d4d" stroke="#4d4d4d" stroke-width="0.25" font-family="Liberation Sans, Arial, Helvetica, sans-serif" >22</text>
<text x="614.6" y="843.6" font-size="23.20" text-anchor="middle" fill="#4d4d4d" stroke="#4d4d4d" stroke-width="0.25" font-family="Liberation Sans, Arial, Helvetica, sans-serif" >24</text>
<text x="658.0" y="843.6" font-size="23.20" text-anchor="middle" fill="#4d4d4d" stroke="#4d4d4d" stroke-width="0.25" font-family="Liberation Sans, Arial, Helvetica, sans-serif" >26</text>
<text x="701.3" y="843.6" font-size="23.20" text-anchor="middle" fill="#4d4d4d" stroke="#4d4d4d" stroke-width="0.25" font-family="Liberation Sans, Arial, Helvetica, sans-serif" >28</text>
<text x="768.6" y="843.6" font-size="23.20" text-anchor="middle" fill="#4d4d4d" stroke="#4d4d4d" stroke-width="0.25" font-family="Liberation Sans, Arial, Helvetica, sans-serif" >2</text>
<text x="812.0" y="843.6" font-size="23.20" text-anchor="middle" fill="#4d4d4d" stroke="#4d4d4d" stroke-width="0.25" font-family="Liberation Sans, Arial, Helvetica, sans-serif" >4</text>
<text x="855.3" y="843.6" font-size="23.20" text-anchor="middle" fill="#4d4d4d" stroke="#4d4d4d" stroke-width="0.25" font-family="Liberation Sans, Arial, Helvetica, sans-serif" >6</text>
<text x="898.7" y="843.6" font-size="23.20" text-anchor="middle" fill="#4d4d4d" stroke="#4d4d4d" stroke-width="0.25" font-family="Liberation Sans, Arial, Helvetica, sans-serif" >8</text>
<text x="942.0" y="843.6" font-size="23.20" text-anchor="middle" fill="#4d4d4d" stroke="#4d4d4d" stroke-width="0.25" font-family="Liberation Sans, Arial, Helvetica, sans-serif" >10</text>
<text x="985.4" y="843.6" font-size="23.20" text-anchor="middle" fill="#4d4d4d" stroke="#4d4d4d" stroke-width="0.25" font-family="Liberation Sans, Arial, Helvetica, sans-serif" >12</text>
<text x="1028.8" y="843.6" font-size="23.20" text-anchor="middle" fill="#4d4d4d" stroke="#4d4d4d" stroke-width="0.25" font-family="Liberation Sans, Arial, Helvetica, sans-serif" >14</text>
<text x="1072.1" y="843.6" font-size="23.20" text-anchor="middle" fill="#4d4d4d" stroke="#4d4d4d" stroke-width="0.25" font-family="Liberation Sans, Arial, Helvetica, sans-serif" >16</text>
<text x="1115.5" y="843.6" font-size="23.20" text-anchor="middle" fill="#4d4d4d" stroke="#4d4d4d" stroke-width="0.25" font-family="Liberation Sans, Arial, Helvetica, sans-serif" >18</text>
<text x="1158.8" y="843.6" font-size="23.20" text-anchor="middle" fill="#4d4d4d" stroke="#4d4d4d" stroke-width="0.25" font-family="Liberation Sans, Arial, Helvetica, sans-serif" >20</text>
<text x="1202.2" y="843.6" font-size="23.20" text-anchor="middle" fill="#4d4d4d" stroke="#4d4d4d" stroke-width="0.25" font-family="Liberation Sans, Arial, Helvetica, sans-serif" >22</text>
<text x="1245.6" y="843.6" font-size="23.20" text-anchor="middle" fill="#4d4d4d" stroke="#4d4d4d" stroke-width="0.25" font-family="Liberation Sans, Arial, Helvetica, sans-serif" >24</text>
<text x="1288.9" y="843.6" font-size="23.20" text-anchor="middle" fill="#4d4d4d" stroke="#4d4d4d" stroke-width="0.25" font-family="Liberation Sans, Arial, Helvetica, sans-serif" >26</text>
<text x="1332.3" y="843.6" font-size="23.20" text-anchor="middle" fill="#4d4d4d" stroke="#4d4d4d" stroke-width="0.25" font-family="Liberation Sans, Arial, Helvetica, sans-serif" >28</text>
<text x="735.1" y="903.6" font-size="27.50" text-anchor="middle" fill="#000" stroke="#000" stroke-width="0.45" font-family="Liberation Sans, Arial, Helvetica, sans-serif" >Amplitude (degrees)</text>
<text transform="translate(25.2,448.9) rotate(-90)" font-size="27.6" text-anchor="middle" fill="#000" stroke="#000" stroke-width="0.45" font-family="Liberation Sans, Arial, Helvetica, sans-serif">Density</text>
<text x="1372.0" y="389.5" font-size="28.00" text-anchor="start" fill="#000" stroke="#000" stroke-width="0.45" font-family="Liberation Sans, Arial, Helvetica, sans-serif" >Group</text>
<line x1="1375.6" x2="1423.9" y1="425.1" y2="425.1" stroke="#0d30ae" stroke-width="5.1"/>
<line x1="1375.6" x2="1423.9" y1="469.9" y2="469.9" stroke="#ee200e" stroke-width="5.1"/>
<line x1="1375.6" x2="1423.9" y1="516.9" y2="516.9" stroke="#000" stroke-width="5.4" stroke-dasharray="15.7 5.4"/>
<text x="1438.3" y="431.2" font-size="24.35" text-anchor="start" fill="#000" stroke="#000" stroke-width="0.45" font-family="Liberation Sans, Arial, Helvetica, sans-serif" >SCA3</text>
<text x="1438.3" y="474.5" font-size="24.35" text-anchor="start" fill="#000" stroke="#000" stroke-width="0.45" font-family="Liberation Sans, Arial, Helvetica, sans-serif" >Control</text>
<text x="1437.9" y="520.8" font-size="24.35" text-anchor="start" fill="#000" stroke="#000" stroke-width="0.45" font-family="Liberation Sans, Arial, Helvetica, sans-serif" >Stimulus</text>
</svg>
</body></html>
